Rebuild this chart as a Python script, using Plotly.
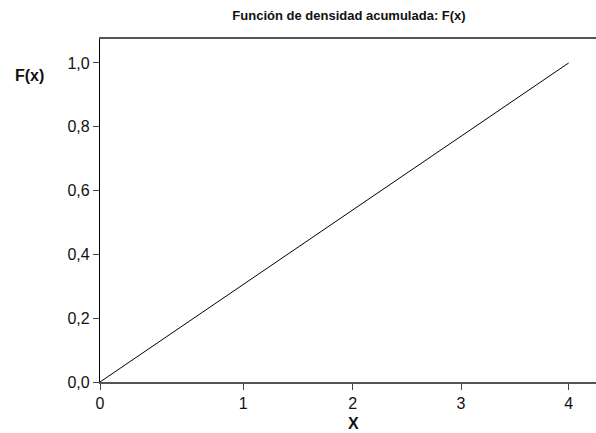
import plotly.graph_objects as go

# data
x_vals = [0, 4]
F_vals = [0.0, 1.0]
x_tick_pos = [0, 1.223, 2.157, 3.081, 4]
x_tick_text = ["0", "1", "2", "3", "4"]
y_tick_vals = [0.0, 0.2, 0.4, 0.6, 0.8, 1.0]

W, H = 596, 433
L, R, T, B = 100, 0, 39, 51

fig = go.Figure()
fig.add_trace(go.Scatter(x=x_vals, y=F_vals, mode="lines",
                         line=dict(color="black", width=1), showlegend=False,
                         hoverinfo="skip"))

font_fam = "Liberation Sans, Arial, sans-serif"

pw = W - L - R
ph = H - T - B


def px_x(p):
    return (p - L) / pw


def px_y(p):
    return (H - B - p) / ph


fig.update_layout(
    width=W, height=H,
    margin=dict(l=L, r=R, t=T, b=B, autoexpand=False),
    paper_bgcolor="white", plot_bgcolor="white",
    separators=",.",
    font=dict(family=font_fam, size=16, color="#111"),
    title=dict(text="<b>Función de densidad acumulada: F(x)</b>",
               x=px_x(349), xref="paper", xanchor="center",
               y=1 - 15 / H, yref="container", yanchor="middle",
               font=dict(size=13, color="#111", family=font_fam)),
    xaxis=dict(range=[0, 4 * pw / 468.7], tickvals=x_tick_pos, ticktext=x_tick_text,
               showgrid=False, zeroline=False, showline=True, linecolor="#555",
               linewidth=1.5, mirror=True, ticks="outside", ticklen=6, tickcolor="#444",
               tickfont=dict(size=16, color="#111")),
    yaxis=dict(range=[0, 1.075], tickvals=y_tick_vals, tickformat=".1f",
               showgrid=False, zeroline=False, showline=True, linecolor="black",
               linewidth=1.2, ticks="outside", ticklen=6, tickcolor="#444",
               tickfont=dict(size=16, color="#111")),
    annotations=[
        dict(text="<b>F(x)</b>", x=px_x(29), y=px_y(75), xref="paper", yref="paper",
             xanchor="center", yanchor="middle",
             showarrow=False, font=dict(size=16, color="#111")),
        dict(text="<b>X</b>", x=px_x(353), y=px_y(424), xref="paper", yref="paper",
             xanchor="center", yanchor="middle", showarrow=False,
             font=dict(size=16, color="#111")),
    ],
)

fig.write_html("out.html", config={"displayModeBar": False},
               post_script="document.body.style.margin='0';document.body.style.padding='0';")
